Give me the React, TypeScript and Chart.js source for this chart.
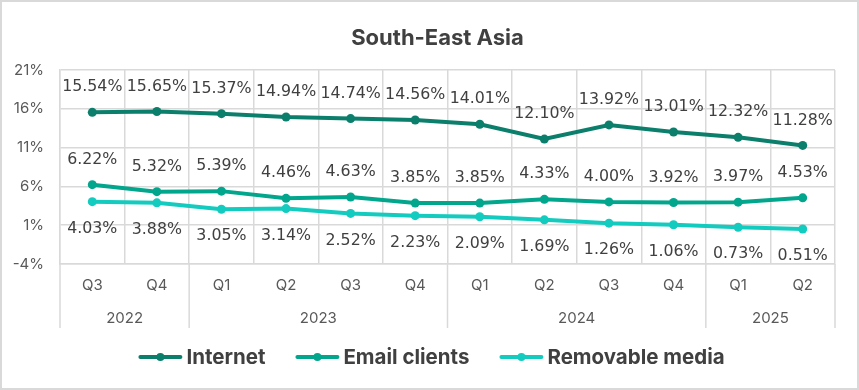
import React, { useEffect, useRef } from "react";
import { Chart, registerables } from "chart.js";

Chart.register(...registerables);

const title = "South-East Asia";
const quarters = ["Q3", "Q4", "Q1", "Q2", "Q3", "Q4", "Q1", "Q2", "Q3", "Q4", "Q1", "Q2"];
const years = ["2022", "2023", "2024", "2025"];
const yearSpans = [2, 4, 4, 2];
const internet = [15.54, 15.65, 15.37, 14.94, 14.74, 14.56, 14.01, 12.1, 13.92, 13.01, 12.32, 11.28];
const emailClients = [6.22, 5.32, 5.39, 4.46, 4.63, 3.85, 3.85, 4.33, 4.0, 3.92, 3.97, 4.53];
const removableMedia = [4.03, 3.88, 3.05, 3.14, 2.52, 2.23, 2.09, 1.69, 1.26, 1.06, 0.73, 0.51];
const seriesNames = ["Internet", "Email clients", "Removable media"];
const seriesColors = ["#0B7F6C", "#02A68C", "#13CCBF"];
const labelPlacement = ["above", "above", "below"];

const GRID = "#D9D9D9";
const TEXT = "#595959";
const DARK = "#404040";
const TICK_FONT = "Inter, 'Noto Sans', sans-serif";
const LABEL_FONT = "'DejaVu Sans', sans-serif";

export default function App() {
  const ref = useRef<HTMLCanvasElement | null>(null);

  useEffect(() => {
    document.body.style.margin = "0";
    const canvas = ref.current;
    if (!canvas) return;

    const decor = {
      id: "decor",
      beforeDraw(chart: any) {
        const ctx = chart.ctx;
        ctx.save();
        ctx.fillStyle = "#ffffff";
        ctx.fillRect(0, 0, chart.width, chart.height);
        ctx.restore();
      },
      afterDatasetsDraw(chart: any) {
        const ctx = chart.ctx;
        ctx.save();
        ctx.font = `15.8px ${LABEL_FONT}`;
        ctx.fillStyle = DARK;
        ctx.textAlign = "center";
        ctx.textBaseline = "middle";
        chart.data.datasets.forEach((ds: any, di: number) => {
          const meta = chart.getDatasetMeta(di);
          meta.data.forEach((pt: any, i: number) => {
            const v = ds.data[i] as number;
            const dy = labelPlacement[di] === "above" ? -25 : 27;
            ctx.fillText(v.toFixed(2) + "%", pt.x, pt.y + dy);
          });
        });
        ctx.restore();
      },
      afterDraw(chart: any) {
        const ctx = chart.ctx;
        const area = chart.chartArea;
        const xs = chart.scales.x;
        ctx.save();
        ctx.strokeStyle = GRID;
        ctx.lineWidth = 1.5;
        let idx = 0;
        const bounds: number[] = [0];
        yearSpans.forEach((s) => {
          idx += s;
          bounds.push(idx);
        });
        bounds.forEach((b) => {
          const x = xs.getPixelForValue(b - 0.5);
          ctx.beginPath();
          ctx.moveTo(x, area.bottom);
          ctx.lineTo(x, 328);
          ctx.stroke();
        });
        ctx.font = `15px ${TICK_FONT}`;
        ctx.fillStyle = TEXT;
        ctx.textAlign = "center";
        ctx.textBaseline = "middle";
        years.forEach((y, i) => {
          const x0 = xs.getPixelForValue(bounds[i] - 0.5);
          const x1 = xs.getPixelForValue(bounds[i + 1] - 0.5);
          ctx.fillText(y, (x0 + x1) / 2, 318);
        });
        // title
        ctx.font = `bold 22px ${TICK_FONT}`;
        ctx.fillStyle = DARK;
        ctx.fillText(title, chart.width / 2 + 8, 38);
        // legend
        ctx.font = `bold 20.5px ${TICK_FONT}`;
        const markW = 44;
        const gapText = 4;
        const gapItem = 30;
        const widths = seriesNames.map((n) => markW + gapText + ctx.measureText(n).width);
        const total = widths.reduce((a, b) => a + b, 0) + gapItem * (seriesNames.length - 1);
        let x = chart.width / 2 + 2 - total / 2;
        const ly = 357;
        seriesNames.forEach((n, i) => {
          ctx.strokeStyle = seriesColors[i];
          ctx.lineWidth = 4;
          ctx.lineCap = "round";
          ctx.beginPath();
          ctx.moveTo(x + 2, ly);
          ctx.lineTo(x + markW - 2, ly);
          ctx.stroke();
          ctx.fillStyle = seriesColors[i];
          ctx.beginPath();
          ctx.arc(x + markW / 2, ly, 4, 0, Math.PI * 2);
          ctx.fill();
          ctx.fillStyle = DARK;
          ctx.textAlign = "left";
          ctx.fillText(n, x + markW + gapText, ly + 1);
          x += widths[i] + gapItem;
        });
        // outer border
        ctx.strokeStyle = GRID;
        ctx.lineWidth = 2;
        ctx.strokeRect(1, 1, chart.width - 2, chart.height - 2);
        ctx.restore();
      },
    };

    const datasets = [internet, emailClients, removableMedia].map((d, i) => ({
      label: seriesNames[i],
      data: d,
      borderColor: seriesColors[i],
      backgroundColor: seriesColors[i],
      borderWidth: 4,
      pointRadius: 4.5,
      pointBorderWidth: 0,
      pointBackgroundColor: seriesColors[i],
      tension: 0,
      fill: false,
    }));

    const chart = new Chart(canvas, {
      type: "line",
      data: { labels: quarters, datasets },
      options: {
        animation: false,
        responsive: false,
        devicePixelRatio: 1,
        layout: { padding: { top: 70, left: 0, right: 24, bottom: 0 } },
        plugins: {
          legend: { display: false },
          title: { display: false },
          tooltip: { enabled: false },
        },
        scales: {
          x: {
            offset: true,
            grid: { offset: true, color: GRID, lineWidth: 1.5, drawTicks: false },
            border: { color: GRID, width: 1.5 },
            ticks: {
              color: TEXT,
              font: { family: TICK_FONT, size: 15 },
              padding: 12,
              maxRotation: 0,
              autoSkip: false,
            },
            afterFit: (s: any) => {
              s.height = 126;
            },
          },
          y: {
            min: -4,
            max: 21,
            grid: { color: GRID, lineWidth: 1.5, drawTicks: false },
            border: { color: GRID, width: 1.5 },
            ticks: {
              stepSize: 5,
              color: TEXT,
              padding: 16,
              font: { family: TICK_FONT, size: 15 },
              callback: (v: any) => `${v}%`,
            },
            afterFit: (s: any) => {
              s.width = 60;
            },
          },
        },
      },
      plugins: [decor],
    });

    return () => chart.destroy();
  }, []);

  return (
    <div style={{ width: 859, height: 390 }}>
      <canvas ref={ref} width={859} height={390} />
    </div>
  );
}
